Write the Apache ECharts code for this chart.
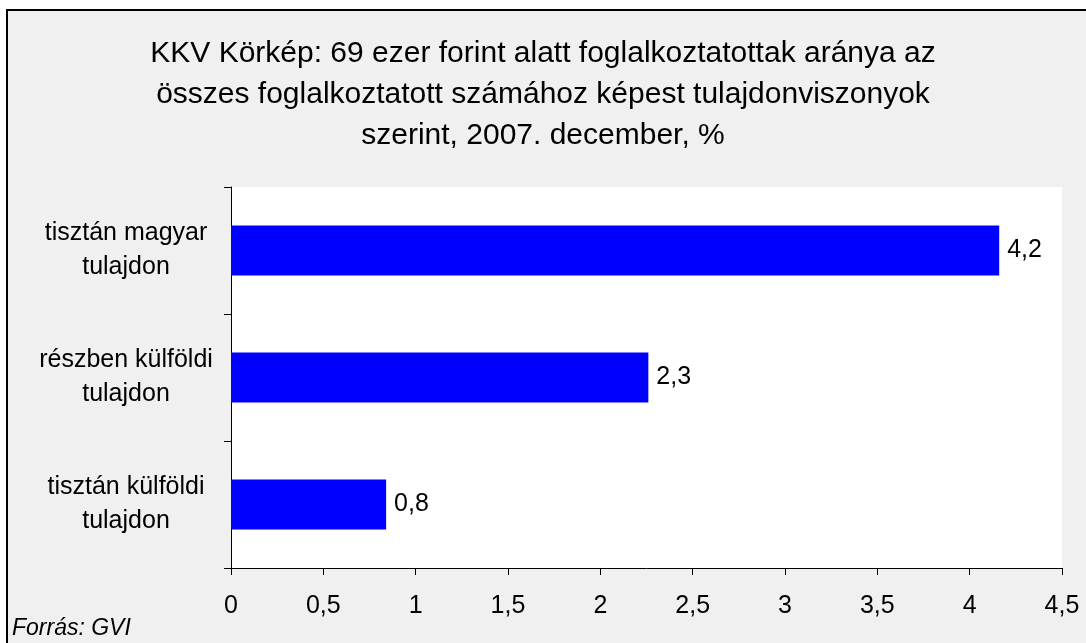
<!DOCTYPE html>
<html>
<head>
    <meta charset="UTF-8">
    <title>KKV Körkép</title>
    <script type="text/javascript" src="https://cdn.jsdelivr.net/npm/echarts@6/dist/echarts.min.js"></script>
    <style>
        html, body { margin: 0; padding: 0; background: #ffffff; }
        #chart { width: 1086px; height: 643px; }
    </style>
</head>
<body>
<div id="chart"></div>
<script>
    // adatok (alulról felfelé, ahogy a kategória tengely rajzol)
    var categories = ['tisztán külföldi\ntulajdon', 'részben külföldi\ntulajdon', 'tisztán magyar\ntulajdon'];
    var values = [0.84, 2.26, 4.16];
    var xTicks = [0, 0.5, 1, 1.5, 2, 2.5, 3, 3.5, 4, 4.5];

    var fontFam = '"Liberation Sans", Arial, sans-serif';

    var myChart = echarts.init(document.getElementById('chart'));
    myChart.setOption({
        animation: false,
        backgroundColor: '#ffffff',
        graphic: [
            {
                type: 'rect',
                z: -10,
                silent: true,
                shape: {x: 7, y: 10, width: 1200, height: 800},
                style: {fill: '#f0f0f0', stroke: '#000', lineWidth: 2}
            },
            {
                type: 'text',
                left: 12,
                top: 617,
                style: {
                    text: 'Forrás: GVI',
                    font: 'italic 23px ' + fontFam,
                    fill: '#000'
                }
            }
        ],
        title: {
            text: 'KKV Körkép: 69 ezer forint alatt foglalkoztatottak aránya az\nösszes foglalkoztatott számához képest tulajdonviszonyok\nszerint, 2007. december, %',
            left: 'center',
            top: 28,
            textStyle: {
                fontFamily: fontFam,
                fontWeight: 'normal',
                fontSize: 30,
                lineHeight: 41,
                color: '#000'
            }
        },
        grid: {
            left: 231,
            right: 24,
            top: 187,
            bottom: 75,
            show: true,
            backgroundColor: '#ffffff',
            borderWidth: 0
        },
        xAxis: {
            type: 'value',
            min: 0,
            max: 4.5,
            interval: 0.5,
            axisLine: {show: true, lineStyle: {color: '#000', width: 1}},
            axisTick: {show: true, inside: false, length: 7, lineStyle: {color: '#000'}},
            splitLine: {show: false},
            axisLabel: {
                margin: 26,
                fontFamily: fontFam,
                fontSize: 25,
                color: '#000',
                formatter: function (v) {
                    return xTicks.indexOf(v) >= 0 ? String(v).replace('.', ',') : '';
                }
            }
        },
        yAxis: {
            type: 'category',
            data: categories,
            axisLine: {show: true, lineStyle: {color: '#000', width: 1}},
            axisTick: {show: true, length: 7, alignWithLabel: false, lineStyle: {color: '#000'}},
            axisLabel: {
                margin: 105,
                fontFamily: fontFam,
                fontSize: 25,
                lineHeight: 34,
                color: '#000',
                align: 'center'
            }
        },
        series: [
            {
                type: 'bar',
                data: values,
                barWidth: 50,
                itemStyle: {color: '#0000ff'},
                label: {
                    show: true,
                    position: 'right',
                    distance: 8,
                    fontFamily: fontFam,
                    fontSize: 25,
                    color: '#000',
                    formatter: function (p) {
                        return p.value.toFixed(1).replace('.', ',');
                    }
                }
            }
        ]
    });
</script>
</body>
</html>
